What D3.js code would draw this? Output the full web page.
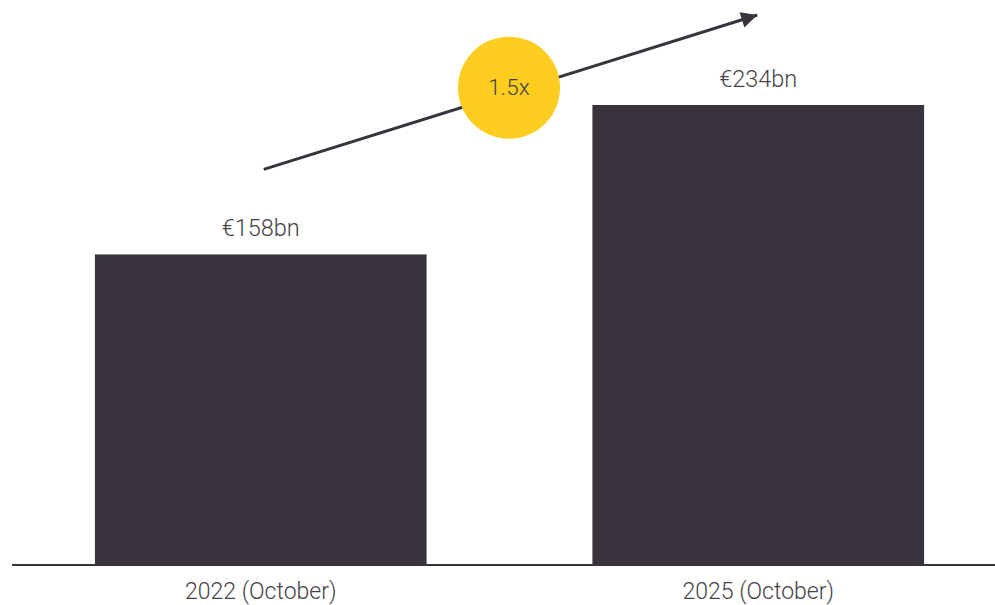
<!DOCTYPE html>
<html>
<head>
<meta charset="utf-8">
<script src="https://cdn.jsdelivr.net/npm/d3@7"></script>
<style>
  html, body { margin: 0; padding: 0; background: #fff; }
  svg { display: block; }
  text { font-family: Roboto, "Noto Sans", sans-serif; font-weight: 300; fill: #454347; }
</style>
</head>
<body>
<div id="chart"></div>
<script>
// Market size, in € billions
const categories = ["2022 (October)", "2025 (October)"];
const values = [158, 234];
const valueLabels = ["€158bn", "€234bn"];
const growthLabel = "1.5x";

const W = 995, H = 605;
const baseY = 565;

const svg = d3.select("#chart").append("svg")
  .attr("width", W).attr("height", H);

const x = d3.scaleBand()
  .domain(categories)
  .range([12, 1007])
  .paddingInner(1 / 3)
  .paddingOuter(1 / 6);

const y = d3.scaleLinear()
  .domain([0, d3.max(values)])
  .range([baseY, 105]);

const data = categories.map((c, i) => ({ c, v: values[i], label: valueLabels[i] }));

// bars
svg.selectAll("rect.bar").data(data).join("rect")
  .attr("class", "bar")
  .attr("x", d => x(d.c))
  .attr("y", d => y(d.v))
  .attr("width", x.bandwidth())
  .attr("height", d => y(0) - y(d.v))
  .attr("fill", "#38333c");

// baseline
svg.append("line")
  .attr("x1", 12).attr("x2", W)
  .attr("y1", y(0)).attr("y2", y(0))
  .attr("stroke", "#38333c").attr("stroke-width", 2);

// value labels
svg.selectAll("text.val").data(data).join("text")
  .attr("class", "val")
  .attr("x", d => x(d.c) + x.bandwidth() / 2)
  .attr("y", d => y(d.v) - 18)
  .attr("text-anchor", "middle")
  .attr("font-size", 23.5)
  .text(d => d.label);

// category labels
svg.selectAll("text.cat").data(data).join("text")
  .attr("class", "cat")
  .attr("x", d => x(d.c) + x.bandwidth() / 2)
  .attr("y", 599)
  .attr("text-anchor", "middle")
  .attr("font-size", 23)
  .text(d => d.c);

// growth arrow between the two bars
const x0 = x(categories[0]) + x.bandwidth() / 2 + 3;
const y0 = y(values[0]) - 85;
const x1 = x(categories[1]) + x.bandwidth() / 2 - 1;
const y1 = y(values[1]) - 90;

svg.append("defs").append("marker")
  .attr("id", "arrowhead")
  .attr("viewBox", "0 0 10 10")
  .attr("refX", 10).attr("refY", 5)
  .attr("markerUnits", "userSpaceOnUse")
  .attr("markerWidth", 18).attr("markerHeight", 16)
  .attr("orient", "auto")
  .append("path")
  .attr("d", "M0,0 L10,5 L0,10 Z")
  .attr("fill", "#38333c");

svg.append("line")
  .attr("x1", x0).attr("y1", y0)
  .attr("x2", x1).attr("y2", y1)
  .attr("stroke", "#38333c")
  .attr("stroke-width", 3)
  .attr("marker-end", "url(#arrowhead)");

// growth badge
const cx = (x0 + x1) / 2 - 1.5;
const cy = (y0 + y1) / 2 - 4.5;
svg.append("circle")
  .attr("cx", cx).attr("cy", cy).attr("r", 51)
  .attr("fill", "#fecd1f");

svg.append("text")
  .attr("x", cx).attr("y", cy + 7.5)
  .attr("text-anchor", "middle")
  .attr("font-size", 22.5)
  .text(growthLabel);
</script>
</body>
</html>
